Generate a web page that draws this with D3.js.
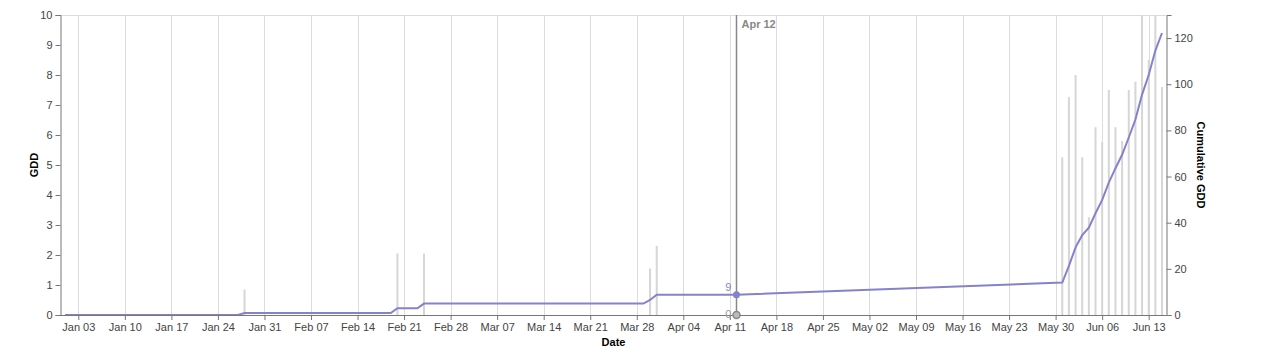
<!DOCTYPE html>
<html>
<head>
<meta charset="utf-8">
<script src="https://cdn.jsdelivr.net/npm/d3@7"></script>
<style>
  html, body { margin: 0; padding: 0; background: #fff; }
  svg { display: block; font-family: "Liberation Sans", Arial, sans-serif; }
</style>
</head>
<body>
<svg id="chart" width="1262" height="363"></svg>
<script>
// ---- data ----
const observedPeriods = [["2021-01-01", "2021-04-12"], ["2021-05-31", "2021-06-15"]];
const gddDates = ["2021-01-28", "2021-02-20", "2021-02-24", "2021-03-30", "2021-03-31",
  "2021-05-31", "2021-06-01", "2021-06-02", "2021-06-03", "2021-06-04", "2021-06-05",
  "2021-06-06", "2021-06-07", "2021-06-08", "2021-06-09", "2021-06-10", "2021-06-11",
  "2021-06-12", "2021-06-13", "2021-06-14", "2021-06-15"];
const gddValues = [0.85, 2.05, 2.05, 1.55, 2.3,
  5.26, 7.26, 8.0, 5.26, 3.26, 6.26,
  5.76, 7.5, 6.26, 5.8, 7.5, 7.78,
  10.8, 8.5, 10.6, 7.6];
const leftTicks = [0, 1, 2, 3, 4, 5, 6, 7, 8, 9, 10];
const rightTicks = [0, 20, 40, 60, 80, 100, 120];
const xDomain = ["2021-01-01", "2021-06-15"];
const leftDomain = [0, 10];
const rightDomain = [0, 130];
const markerDate = "2021-04-12";

// ---- build table ----
const parse = d3.timeParse("%Y-%m-%d");
const gddMap = new Map(gddDates.map((d, i) => [d, gddValues[i]]));
const fmtKey = d3.timeFormat("%Y-%m-%d");
const rows = [];
observedPeriods.forEach(([a, b]) => {
  d3.timeDay.range(parse(a), d3.timeDay.offset(parse(b), 1)).forEach(dt => {
    rows.push({ date: dt, gdd: gddMap.get(fmtKey(dt)) || 0 });
  });
});
let run = 0;
rows.forEach(r => { run += r.gdd; r.cum = run; });

// ---- layout ----
const svg = d3.select("#chart");
const plotL = 60.5, plotR = 1166.5, plotT = 15, plotB = 315;
const pad = 4.5;

const x = d3.scaleTime().domain(xDomain.map(parse)).range([plotL + pad, plotR - pad]);
const yL = d3.scaleLinear().domain(leftDomain).range([plotB, plotT]);
const yR = d3.scaleLinear().domain(rightDomain).range([plotB, plotT]);

const xTicks = d3.timeWeek.every(1).range(parse("2021-01-02"), parse("2021-06-15"));

// gridlines
svg.append("g").selectAll("line").data(xTicks).join("line")
  .attr("x1", d => Math.round(x(d)) + 0.5).attr("x2", d => Math.round(x(d)) + 0.5)
  .attr("y1", plotT).attr("y2", plotB)
  .attr("stroke", "#dcdcdc").attr("stroke-width", 1);
svg.append("line").attr("x1", plotL).attr("x2", plotR).attr("y1", plotT + 0.5).attr("y2", plotT + 0.5)
  .attr("stroke", "#dcdcdc");

// bars
svg.append("defs").append("clipPath").attr("id", "clip")
  .append("rect").attr("x", plotL).attr("y", plotT).attr("width", plotR - plotL).attr("height", plotB - plotT);
svg.append("g").attr("clip-path", "url(#clip)").selectAll("rect")
  .data(rows.filter(r => r.gdd > 0)).join("rect")
  .attr("x", d => x(d.date) - 1).attr("width", 2)
  .attr("y", d => yL(Math.min(d.gdd, leftDomain[1] + 0.2)))
  .attr("height", d => plotB - yL(Math.min(d.gdd, leftDomain[1] + 0.2)))
  .attr("fill", "#d6d6d6");

// cumulative line
svg.append("path").datum(rows)
  .attr("fill", "none").attr("stroke", "#8582cc").attr("stroke-width", 2)
  .attr("d", d3.line().x(d => x(d.date)).y(d => yR(d.cum)));

// axes
const axisStyle = g => {
  g.selectAll(".domain").attr("stroke", "#777");
  g.selectAll(".tick line").attr("stroke", "#777");
  g.selectAll(".tick text").attr("fill", "#444").style("font-size", "11px")
    .style("font-family", '"Liberation Sans", Arial, sans-serif');
};
svg.append("g").attr("transform", `translate(0,${plotB})`)
  .call(d3.axisBottom(x).tickValues(xTicks).tickFormat(d3.timeFormat("%b %d")).tickSizeOuter(0).tickSize(5).tickPadding(3))
  .call(axisStyle)
  .call(g => g.select(".domain").attr("d", `M${plotL},0.5H${plotR}`));
svg.append("g").attr("transform", `translate(${plotL},0)`)
  .call(d3.axisLeft(yL).tickValues(leftTicks).tickSizeOuter(0).tickSize(5).tickPadding(3))
  .call(axisStyle);
svg.append("g").attr("transform", `translate(${plotR},0)`)
  .call(d3.axisRight(yR).tickValues(rightTicks).tickSizeOuter(0).tickSize(5).tickPadding(3))
  .call(axisStyle);

// titles
svg.append("text").attr("transform", `translate(38,165) rotate(-90)`).attr("text-anchor", "middle")
  .style("font-size", "11px").style("font-weight", "bold").attr("fill", "#000").text("GDD");
svg.append("text").attr("transform", `translate(1197,165) rotate(90)`).attr("text-anchor", "middle")
  .style("font-size", "11px").style("font-weight", "bold").attr("fill", "#000").text("Cumulative GDD");
svg.append("text").attr("x", (plotL + plotR) / 2).attr("y", 346).attr("text-anchor", "middle")
  .style("font-size", "11px").style("font-weight", "bold").attr("fill", "#000").text("Date");

// marker
const md = parse(markerDate);
const mRow = rows.find(r => +r.date === +md);
const mx = x(md);
svg.append("line").attr("x1", mx).attr("x2", mx).attr("y1", plotT).attr("y2", plotB)
  .attr("stroke", "#888").attr("stroke-width", 1.5);
svg.append("text").attr("x", mx + 5).attr("y", 28)
  .style("font-size", "11px").style("font-weight", "bold").attr("fill", "#888")
  .text(d3.timeFormat("%b %d")(md));
svg.append("circle").attr("cx", mx).attr("cy", yR(mRow.cum)).attr("r", 3.5).attr("fill", "#8582cc");
svg.append("text").attr("x", mx - 5).attr("y", yR(mRow.cum) - 4).attr("text-anchor", "end")
  .style("font-size", "11px").attr("fill", "#8582cc").text(d3.format(".0f")(mRow.cum));
svg.append("circle").attr("cx", mx).attr("cy", yL(mRow.gdd)).attr("r", 3.5)
  .attr("fill", "#bbb").attr("stroke", "#888").attr("stroke-width", 1.5);
svg.append("text").attr("x", mx - 5).attr("y", yL(mRow.gdd) + 3).attr("text-anchor", "end")
  .style("font-size", "11px").attr("fill", "#999").text(d3.format(".0f")(mRow.gdd));
</script>
</body>
</html>
